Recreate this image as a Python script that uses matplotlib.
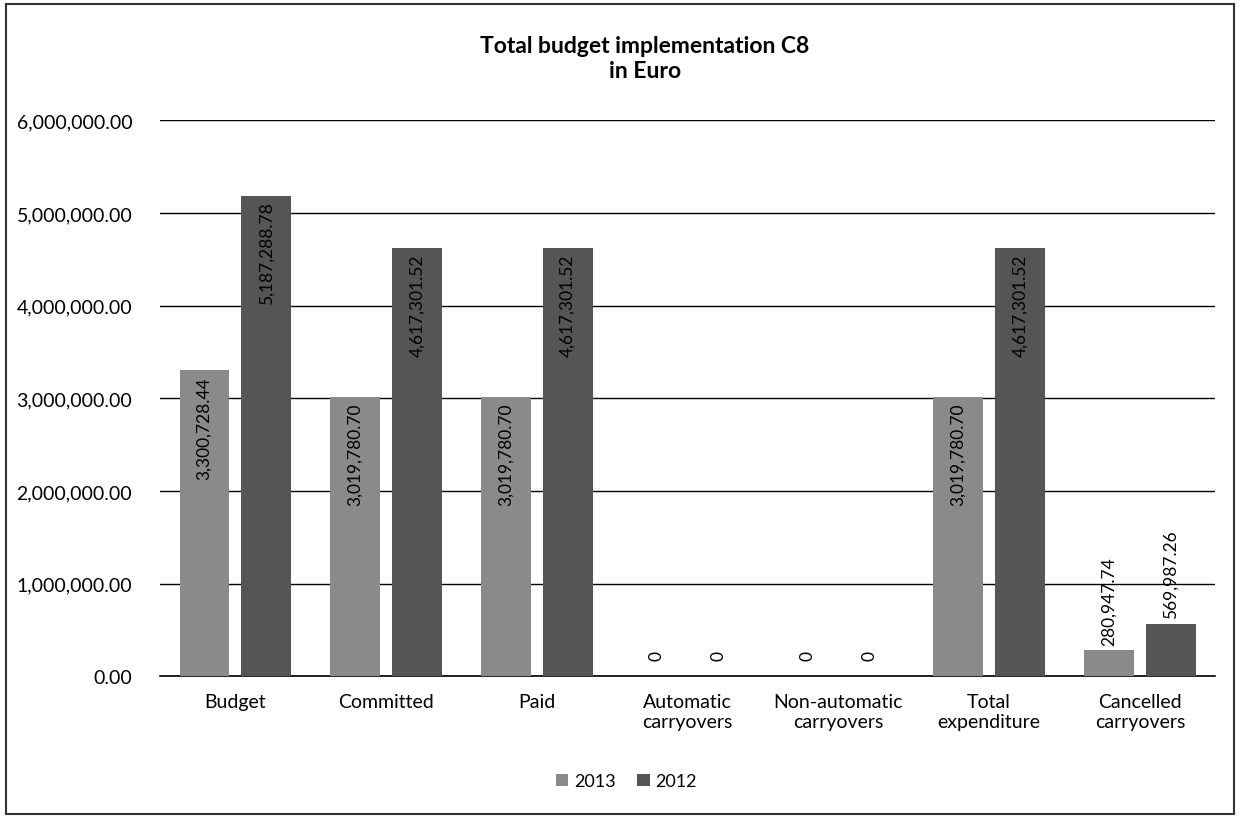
import matplotlib.pyplot as plt
from matplotlib.patches import Rectangle
from matplotlib.ticker import FuncFormatter
import numpy as np

plt.rcParams['font.family'] = ['Lato', 'DejaVu Sans']

categories = ["Budget", "Committed", "Paid", "Automatic\ncarryovers",
              "Non-automatic\ncarryovers", "Total\nexpenditure", "Cancelled\ncarryovers"]
values_2013 = [3300728.44, 3019780.70, 3019780.70, 0, 0, 3019780.70, 280947.74]
values_2012 = [5187288.78, 4617301.52, 4617301.52, 0, 0, 4617301.52, 569987.26]
labels_2013 = ["3,300,728.44", "3,019,780.70", "3,019,780.70", "0", "0", "3,019,780.70", "280,947.74"]
labels_2012 = ["5,187,288.78", "4,617,301.52", "4,617,301.52", "0", "0", "4,617,301.52", "569,987.26"]

COLOR_2013 = "#8a8a8a"
COLOR_2012 = "#555555"

fig = plt.figure(figsize=(12.4, 8.2), dpi=100)
ax = fig.add_axes([0.129, 0.174, 0.851, 0.678])

x = np.arange(len(categories))
w = 0.33
off = 0.205
b13 = ax.bar(x - off, values_2013, w, color=COLOR_2013, label="2013", zorder=3)
b12 = ax.bar(x + off, values_2012, w, color=COLOR_2012, label="2012", zorder=3)


def put_labels(bars, vals, texts):
    for bar, v, t in zip(bars, vals, texts):
        cx = bar.get_x() + bar.get_width() / 2
        if v == 0:
            # zero values sit just above the baseline
            ax.annotate(t, (cx, 0), xytext=(0, 12), textcoords="offset points",
                        rotation=90, ha="center", va="bottom", fontsize=12.5, zorder=4)
        elif v < 1000000:
            # short bars get the label above
            ax.annotate(t, (cx, v), xytext=(0, 4), textcoords="offset points",
                        rotation=90, ha="center", va="bottom", fontsize=12.5, zorder=4)
        else:
            ax.annotate(t, (cx, v), xytext=(0, -4), textcoords="offset points",
                        rotation=90, ha="center", va="top", fontsize=12.5, zorder=4)


put_labels(b13, values_2013, labels_2013)
put_labels(b12, values_2012, labels_2012)

ax.set_xlim(-0.5, len(categories) - 0.5)
ax.set_ylim(0, 6000000)
ax.set_yticks(np.arange(0, 6000001, 1000000))
ax.yaxis.set_major_formatter(FuncFormatter(lambda v, p: f"{v:,.2f}"))
ax.set_xticks(x)
ax.set_xticklabels(categories, fontsize=14)
ax.tick_params(axis="y", labelsize=14, length=0, pad=20)
ax.tick_params(axis="x", length=0, pad=12)
ax.grid(axis="y", color="black", linewidth=1.0, zorder=0)
for s in ["left", "right", "top"]:
    ax.spines[s].set_visible(False)
ax.spines["bottom"].set_color("black")
ax.spines["bottom"].set_linewidth(1.2)

fig.text(0.52, 0.928, "Total budget implementation C8\nin Euro", ha="center", va="center",
         fontsize=16.5, fontweight="bold", linespacing=1.25)

fig.legend(handles=[b13, b12], loc="center", bbox_to_anchor=(0.505, 0.046), ncol=2,
           frameon=False, fontsize=13, handlelength=0.7, handleheight=0.7,
           handletextpad=0.3, columnspacing=1.2)

# outer frame
fig.patches.append(Rectangle((0.005, 0.006), 0.99, 0.988, transform=fig.transFigure,
                             fill=False, edgecolor="#333333", linewidth=1.5))

fig.savefig("out.png", dpi=100)
